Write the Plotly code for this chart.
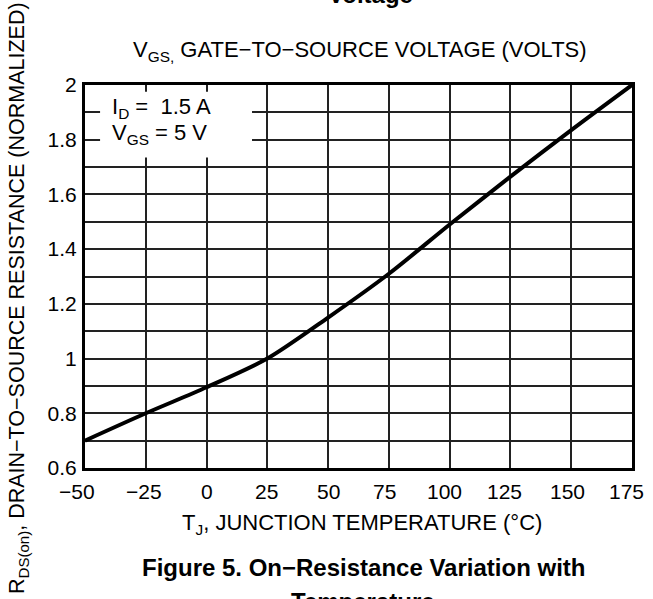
import plotly.graph_objects as go

# Data
temp_c = [-50, -25, 0, 25, 50, 75, 100, 125, 150, 175]
rds_norm = [0.70, 0.80, 0.895, 1.0, 1.15, 1.31, 1.49, 1.665, 1.835, 2.0]

x_tick_vals = [-50, -25, 0, 25, 50, 75, 100, 125, 150, 175]
x_tick_text = ["\u221250", "\u221225", "0", "25", "50", "75", "100", "125", "150", "175"]
y_tick_vals = [0.6, 0.8, 1.0, 1.2, 1.4, 1.6, 1.8, 2.0]
y_tick_text = ["0.6", "0.8", "1", "1.2", "1.4", "1.6", "1.8", "2"]

# pixel nudges of the x tick labels as printed in the scan (style only)
x_label_shift = [-8, -2, 0, -1, 0, -4, -5, -6, -4, -6]

FONT = "Liberation Sans, Arial, sans-serif"
FS_TICK = 21
FS_TITLE = 22
FS_YTITLE = 21.5
FS_BOLD = 24

fig = go.Figure()
fig.add_trace(go.Scatter(
    x=temp_c, y=rds_norm, mode="lines",
    line=dict(color="black", width=4, shape="spline", smoothing=0.8),
    showlegend=False, hoverinfo="skip", cliponaxis=False,
))

grid_col = "#222222"
fig.update_xaxes(
    range=[-50, 175], tickvals=x_tick_vals, showticklabels=False,
    showgrid=True, gridcolor=grid_col, gridwidth=1.5,
    showline=True, linecolor="black", linewidth=3, mirror=True,
    ticks="", zeroline=False,
)
fig.update_yaxes(
    range=[0.6, 2.0], tickvals=y_tick_vals, ticktext=y_tick_text,
    showgrid=True, gridcolor=grid_col, gridwidth=1.5,
    minor=dict(dtick=0.1, showgrid=True, gridcolor=grid_col, gridwidth=1.5),
    showline=True, linecolor="black", linewidth=3, mirror=True,
    ticks="", zeroline=False, ticklabelstandoff=1,
    tickfont=dict(family=FONT, size=FS_TICK, color="black"),
)

# x tick labels
for v, t, s in zip(x_tick_vals, x_tick_text, x_label_shift):
    fig.add_annotation(text=t, xref="x", yref="paper", x=v, y=0, xshift=s, yshift=-23,
                       xanchor="center", yanchor="middle", showarrow=False,
                       font=dict(family=FONT, size=FS_TICK, color="black"))

# white box behind condition text
fig.add_shape(type="rect", xref="x", yref="y", x0=-43.8, x1=18.7, y0=1.735, y1=1.975,
              fillcolor="white", line=dict(width=0), layer="above")

def pxy(p):
    return (468 - p) / 383.0

def pxx(p):
    return (p - 85) / 547.0

ann = [
    dict(text="<b>Voltage</b>", x=pxx(370), y=pxy(-5), size=FS_BOLD),
    dict(text="V<sub>GS,</sub> GATE\u2212TO\u2212SOURCE VOLTAGE (VOLTS)", x=pxx(360), y=pxy(51), size=FS_TITLE),
    dict(text="T<sub>J</sub>, JUNCTION TEMPERATURE (\u00b0C)", x=pxx(362), y=pxy(524), size=FS_TITLE),
    dict(text="<b>Figure 5. On\u2212Resistance Variation with</b>", x=pxx(363), y=pxy(567), size=FS_BOLD),
    dict(text="<b>Temperature</b>", x=pxx(363), y=pxy(601), size=FS_BOLD),
]
for a in ann:
    fig.add_annotation(text=a["text"], xref="paper", yref="paper", x=a["x"], y=a["y"],
                       xanchor="center", yanchor="middle", showarrow=False,
                       font=dict(family=FONT, size=a["size"], color="black"))

fig.add_annotation(text="R<sub>DS(on)</sub>, DRAIN\u2212TO\u2212SOURCE RESISTANCE (NORMALIZED)",
                   xref="paper", yref="paper", x=pxx(18), y=pxy(298), textangle=-90,
                   xanchor="center", yanchor="middle", showarrow=False,
                   font=dict(family=FONT, size=FS_YTITLE, color="black"))

fig.add_annotation(text="I<sub>D</sub> =  1.5 A", xref="paper", yref="paper",
                   x=pxx(110), y=pxy(108), xanchor="left", yanchor="middle", showarrow=False,
                   font=dict(family=FONT, size=FS_TITLE, color="black"))
fig.add_annotation(text="V<sub>GS</sub> = 5 V", xref="paper", yref="paper",
                   x=pxx(110), y=pxy(134), xanchor="left", yanchor="middle", showarrow=False,
                   font=dict(family=FONT, size=FS_TITLE, color="black"))

fig.update_layout(
    width=653, height=599,
    margin=dict(l=85, r=21, t=85, b=131, autoexpand=False),
    paper_bgcolor="white", plot_bgcolor="white",
    font=dict(family=FONT, size=FS_TICK, color="black"),
)

fig.write_html("out.html", config={"displayModeBar": False},
               post_script="document.body.style.margin='0';document.body.style.overflow='hidden';")
